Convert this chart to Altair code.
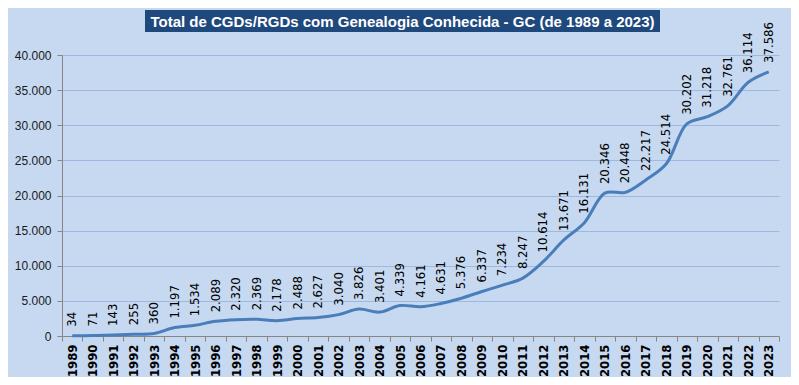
import altair as alt
import pandas as pd

years = [str(y) for y in range(1989, 2024)]
values = [34, 71, 143, 255, 360, 1197, 1534, 2089, 2320, 2369, 2178, 2488, 2627,
          3040, 3826, 3401, 4339, 4161, 4631, 5376, 6337, 7234, 8247, 10614,
          13671, 16131, 20346, 20448, 22217, 24514, 30202, 31218, 32761, 36114, 37586]
title_text = "Total de CGDs/RGDs com Genealogia Conhecida - GC (de 1989 a 2023)"

df = pd.DataFrame({"ano": years, "total": values})

BG = "#C6D9F1"
LINE = "#4A7EBB"
NARROW = "Liberation Sans Narrow, Arial Narrow, DejaVu Sans Condensed, sans-serif"

x = alt.X("ano:N", sort=years, title=None,
          scale=alt.Scale(paddingInner=0, paddingOuter=0),
          axis=alt.Axis(labelAngle=270, labelAlign="right", labelBaseline="middle",
                        labelFont=NARROW, labelFontWeight="bold", labelFontSize=13,
                        labelColor="#000000", labelPadding=3,
                        tickBand="extent", ticks=True, tickSize=5, tickColor="#868686",
                        domainColor="#868686", grid=False))
y = alt.Y("total:Q", title=None,
          scale=alt.Scale(domain=[0, 40000], nice=False),
          axis=alt.Axis(values=list(range(0, 40001, 5000)),
                        labelExpr="replace(format(datum.value, ','), ',', '.')",
                        labelFont="Liberation Sans, Arial, sans-serif", labelFontSize=12,
                        labelColor="#1a1a1a", labelPadding=6,
                        tickSize=5, tickColor="#868686", domainColor="#868686",
                        gridColor="#9DB9E1", gridWidth=1))

base = alt.Chart(df).encode(x=x, y=y)

line = base.mark_line(color=LINE, strokeWidth=3, interpolate="catmull-rom")

labels = base.transform_calculate(
    lbl="replace(format(datum.total, ','), ',', '.')"
).mark_text(angle=270, align="left", baseline="middle", dx=9,
            font=NARROW, fontSize=13, color="#000000").encode(text="lbl:N")

title_box = alt.Chart(pd.DataFrame({"t": [title_text]})).mark_rect(
    color="#1F497D").encode(
    x=alt.value(83), x2=alt.value(598), y=alt.value(-45), y2=alt.value(-23))
title_lbl = alt.Chart(pd.DataFrame({"t": [title_text]})).mark_text(
    color="white", font="Liberation Sans, Arial, sans-serif", fontSize=15,
    fontWeight="bold", align="center", baseline="middle").encode(
    x=alt.value(340.5), y=alt.value(-33.5), text="t:N")

chart = alt.layer(line, labels, title_box, title_lbl).properties(
    width=717, height=281,
    autosize=alt.AutoSizeParams(type="none"),
    padding={"left": 54, "top": 47, "right": 12, "bottom": 41},
    background=BG,
).configure_view(stroke=None)

chart.save("out.html", embed_options={"renderer": "svg", "actions": False})
